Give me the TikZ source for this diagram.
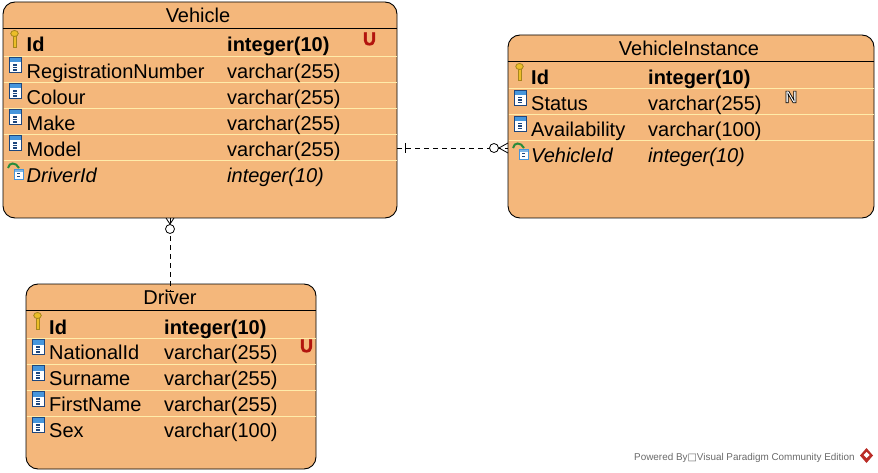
\documentclass[tikz,border=0pt]{standalone}
\usepackage{fontspec}
\setmainfont{Liberation Sans}
\newfontfamily\symfont{DejaVu Sans}
\definecolor{erfill}{RGB}{244,183,123}
\definecolor{ersep}{RGB}{255,236,170}
\definecolor{erred}{RGB}{178,20,14}
\definecolor{ergray}{RGB}{105,105,105}
\definecolor{iconblue}{RGB}{70,150,220}
\definecolor{icondark}{RGB}{30,70,125}
\definecolor{keygold}{RGB}{236,190,40}
\definecolor{fkgreen}{RGB}{40,140,60}
\usetikzlibrary{positioning}
\tikzset{
  tablebox/.style={draw=black, fill=erfill, rounded corners=12pt, line width=0.9pt, inner sep=0pt},
  headline/.style={draw=black, line width=0.9pt},
  sepline/.style={draw=ersep, line width=0.9pt},
  title/.style={anchor=base, inner sep=0pt, font=\fontsize{20}{22}\selectfont},
  cell/.style={anchor=base west, inner sep=0pt, font=\fontsize{20}{22}\selectfont},
  pkcell/.style={cell, font=\fontsize{20}{22}\selectfont\bfseries},
  fkcell/.style={cell, font=\fontsize{20}{22}\selectfont\itshape},
  uniq/.style={inner sep=0pt, text=erred, font=\fontsize{18}{18}\selectfont\bfseries\addfontfeature{FakeBold=2.5}},
  relline/.style={draw=black, line width=0.8pt, dash pattern=on 5pt off 4pt},
  relend/.style={draw=black, line width=0.8pt},
  keyicon/.pic={
    \fill[keygold] (-0.2,-2) rectangle (3.2,10);
    \draw[keygold!70!black, line width=0.6pt] (-0.2,-1) -- (-0.2,10) -- (3.2,10) -- (3.2,-1);
    \draw[keygold!70!black, fill=keygold, line width=0.8pt] (1.5,-3.5) ellipse (3.8pt and 3pt);
  },
  colicon/.pic={
    \fill[white] (0,0) rectangle (12,15);
    \fill[iconblue] (0,0) rectangle (12,5);
    \draw[icondark, line width=0.8pt] (0,0) rectangle (12,15);
    \draw[icondark, line width=1.2pt] (4,7.5) -- (8,7.5) (4,10) -- (8,10) (4,12.5) -- (8,12.5);
  },
  fkicon/.pic={
    \fill[white] (6,6) rectangle (15,16);
    \fill[iconblue!70] (6,6) rectangle (15,9);
    \draw[iconblue, line width=0.6pt] (6,6) rectangle (15,16);
    \draw[icondark, line width=1pt] (9,11) -- (12,11) (9,13.5) -- (12,13.5);
    \draw[fkgreen, line width=2pt] (0,5) .. controls (1,-1) and (8,-1) .. (11,5);
  },
}

\begin{document}
\begin{tikzpicture}[x=1pt, y=-1pt]
  \useasboundingbox (0,0) rectangle (878,473);

  % entity boxes
  \node[tablebox, minimum width=394pt, minimum height=216pt] (vehicle) at (200,110) {};
  \node[tablebox, minimum width=366pt, minimum height=183pt] (instance) at (691,126.5) {};
  \node[tablebox, minimum width=290pt, minimum height=185pt] (driver) at (171,376.5) {};

  % relationships
  \coordinate (vehiclefk) at (397,148);
  \coordinate (instancefk) at (508,148);
  \coordinate (vehiclebot) at (170,218);
  \coordinate (driverbar) at (170,291);
  \draw[relline] (vehiclefk) -- (instancefk);
  \draw[relline] (vehiclebot) -- (driverbar);
  \draw[relend] (405,143) -- (405,153);
  \draw[relend] (166,291) -- (174,291);
  \node[draw=black, fill=white, circle, line width=0.8pt, minimum size=9pt, inner sep=0pt] (ringright) at (494,148) {};
  \node[draw=black, fill=white, circle, line width=0.8pt, minimum size=9pt, inner sep=0pt] (ringdown) at (170,229) {};
  \draw[relend] (508,143) -- (ringright.east) -- (508,153);
  \draw[relend] (166,218) -- (ringdown.north) -- (174,218);

  % Vehicle
  \node[title] (vehicletitle) at (198,23) {Vehicle};
  \draw[headline] (vehicle.west |- 0,28) -- (vehicle.east |- 0,28);
  \draw[sepline] (3.5,56) -- (396.5,56);
  \draw[sepline] (3.5,82) -- (396.5,82);
  \draw[sepline] (3.5,108) -- (396.5,108);
  \draw[sepline] (3.5,134) -- (396.5,134);
  \draw[sepline] (3.5,160) -- (396.5,160);
  \pic at (13,37) {keyicon};
  \pic at (9,57.5) {colicon};
  \pic at (9,83.5) {colicon};
  \pic at (9,109.5) {colicon};
  \pic at (9,135.5) {colicon};
  \pic at (8,163) {fkicon};
  \node[pkcell] (vid) at (26.5,52) {Id};
  \node[pkcell] (vidtype) at (227,52) {integer(10)};
  \node[cell] (vreg) at (26.5,78.5) {RegistrationNumber};
  \node[cell] (vregtype) at (227,78.5) {varchar(255)};
  \node[cell] (vcolour) at (26.5,104.5) {Colour};
  \node[cell] (vcolourtype) at (227,104.5) {varchar(255)};
  \node[cell] (vmake) at (26.5,130.5) {Make};
  \node[cell] (vmaketype) at (227,130.5) {varchar(255)};
  \node[cell] (vmodel) at (26.5,156.5) {Model};
  \node[cell] (vmodeltype) at (227,156.5) {varchar(255)};
  \node[fkcell] (vdriver) at (26.5,182.5) {DriverId};
  \node[fkcell] (vdrivertype) at (227,182.5) {integer(10)};
  \node[uniq] (vuniq) at (369.5,39) {U};

  % VehicleInstance
  \node[title] (instancetitle) at (689,56) {VehicleInstance};
  \draw[headline] (instance.west |- 0,61) -- (instance.east |- 0,61);
  \draw[sepline] (508.5,88.5) -- (873.5,88.5);
  \draw[sepline] (508.5,114.5) -- (873.5,114.5);
  \draw[sepline] (508.5,140.5) -- (873.5,140.5);
  \pic at (518,70) {keyicon};
  \pic at (514,90) {colicon};
  \pic at (514,116) {colicon};
  \pic at (513,143) {fkicon};
  \node[pkcell] (iid) at (531,85) {Id};
  \node[pkcell] (iidtype) at (648,85) {integer(10)};
  \node[cell] (istatus) at (531,110.5) {Status};
  \node[cell] (istatustype) at (648,110.5) {varchar(255)};
  \node[cell] (iavail) at (531,136.5) {Availability};
  \node[cell] (iavailtype) at (648,136.5) {varchar(100)};
  \node[fkcell] (ivehicle) at (531,162.5) {VehicleId};
  \node[fkcell] (ivehicletype) at (648,162.5) {integer(10)};
  \node[inner sep=0pt, text=white, font=\fontsize{17}{17}\selectfont\bfseries] (inull) at (791,97) {\special{pdf:code 2 Tr 0.7 w 0 0 0 RG}N\special{pdf:code 0 Tr}};

  % Driver
  \node[title] (drivertitle) at (170,304) {Driver};
  \draw[headline] (driver.west |- 0,310) -- (driver.east |- 0,310);
  \draw[sepline] (26.5,338) -- (315.5,338);
  \draw[sepline] (26.5,364) -- (315.5,364);
  \draw[sepline] (26.5,390) -- (315.5,390);
  \draw[sepline] (26.5,416) -- (315.5,416);
  \pic at (36,319) {keyicon};
  \pic at (32,339.5) {colicon};
  \pic at (32,365.5) {colicon};
  \pic at (32,391.5) {colicon};
  \pic at (32,417.5) {colicon};
  \node[pkcell] (did) at (49,334) {Id};
  \node[pkcell] (didtype) at (164,334) {integer(10)};
  \node[cell] (dnat) at (49,359.5) {NationalId};
  \node[cell] (dnattype) at (164,359.5) {varchar(255)};
  \node[cell] (dsur) at (49,385.5) {Surname};
  \node[cell] (dsurtype) at (164,385.5) {varchar(255)};
  \node[cell] (dfirst) at (49,411.5) {FirstName};
  \node[cell] (dfirsttype) at (164,411.5) {varchar(255)};
  \node[cell] (dsex) at (49,437.5) {Sex};
  \node[cell] (dsextype) at (164,437.5) {varchar(100)};
  \node[uniq] (duniq) at (306.5,346) {U};

  % footer
  \node[anchor=base west, inner sep=0pt, text=ergray, font=\fontsize{9.9}{12}\selectfont] (powered) at (634,460) {Powered By{\symfont\char"25A1}Visual Paradigm Community Edition};
  \fill[erred!90!white] (866.5,448) -- (873,455.5) -- (866.5,463) -- (860,455.5) -- cycle;
  \fill[white] (866.5,452) -- (869.5,455) -- (866.5,458) -- (863.5,455) -- cycle;
\end{tikzpicture}
\end{document}
